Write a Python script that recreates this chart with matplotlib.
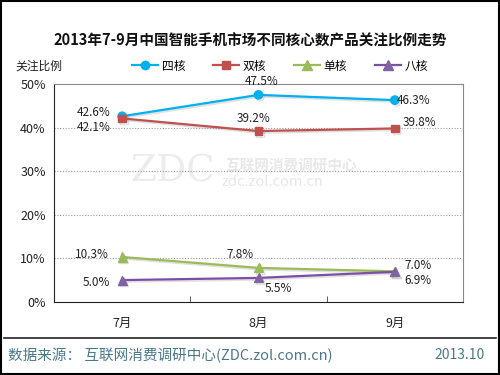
import matplotlib
matplotlib.use("Agg")
import matplotlib.pyplot as plt
import matplotlib.patheffects as pe
from matplotlib.patches import Rectangle
from matplotlib.lines import Line2D

plt.rcParams['font.family'] = ['Noto Sans CJK SC', 'DejaVu Sans']

months = ['7月', '8月', '9月']
quad = [42.6, 47.5, 46.3]     # 四核
dual = [42.1, 39.2, 39.8]     # 双核
single = [10.3, 7.8, 7.0]     # 单核
octa = [5.0, 5.5, 6.9]        # 八核

series = [
    ('四核', quad, '#00B0F0', 'o', [(-12, 4, 'right'), (3, 13, 'center'), (2, 0, 'left')]),
    ('双核', dual, '#C0504D', 's', [(-12, -9, 'right'), (-5, 13, 'center'), (8, 6, 'left')]),
    ('单核', single, '#9BBB59', '^', [(-13, 2, 'right'), (-18, 13, 'center'), (10, 6, 'left')]),
    ('八核', octa, '#7B4FA8', '^', [(-12, -2, 'right'), (20, -11, 'center'), (10, -9, 'left')]),
]
msizes = {'o': 6, 's': 5.5, '^': 6.5}

fig = plt.figure(figsize=(5, 3.75), dpi=100)
ax = fig.add_axes([0.108, 0.195, 0.818, 0.581])

shadow = [pe.SimpleLineShadow(offset=(1.2, -1.2), shadow_color='#888888', alpha=0.25), pe.Normal()]

x = list(range(len(months)))
for name, vals, col, mk, offs in series:
    mfc = '#8064A2' if name == '八核' else col
    ax.plot(x, vals, color=col, lw=1.6, marker=mk, ms=msizes[mk],
            mfc=mfc, mec=mfc, label=name, zorder=3, path_effects=shadow)
    for xi, v, (dx, dy, ha) in zip(x, vals, offs):
        ax.annotate(f'{v:.1f}%', (xi, v), xytext=(dx, dy), textcoords='offset pixels',
                    ha=ha, va='center', fontsize=8.5, color='#222222', zorder=4)

ax.set_xlim(-0.5, 2.5)
ax.set_ylim(0, 50)
ax.set_yticks([0, 10, 20, 30, 40, 50])
ax.set_yticklabels([f'{t}%' for t in [0, 10, 20, 30, 40, 50]], fontsize=9, color='#222222')
ax.set_xticks(x)
ax.set_xticklabels(months, fontsize=9, color='#222222')
ax.set_xticks([0.5, 1.5], minor=True)
ax.tick_params(axis='x', which='major', length=0, pad=11)
ax.tick_params(axis='x', which='minor', direction='in', length=4, color='#444444')
ax.tick_params(axis='y', length=0, pad=6)
for yv in [10, 20, 30, 40]:
    ax.axhline(yv, color='#999999', lw=0.8, ls=(0, (1, 1.5)), zorder=1)
for s in ['top', 'right']:
    ax.spines[s].set_color('#888888')
for s in ['left', 'bottom']:
    ax.spines[s].set_color('#222222')

# watermark
ax.text(0.29, 0.60, 'ZDC', transform=ax.transAxes, fontsize=27, color='#ececec',
        family='DejaVu Serif', ha='center', va='center', zorder=0)
ax.text(0.58, 0.63, '互联网消费调研中心', transform=ax.transAxes, fontsize=10.5,
        color='#e8e8e8', ha='center', va='center', weight='bold', zorder=0)
ax.text(0.535, 0.55, 'zdc.zol.com.cn', transform=ax.transAxes, fontsize=10.5,
        color='#e8e8e8', ha='center', va='center', zorder=0)

fig.text(0.5, 0.893, '2013年7-9月中国智能手机市场不同核心数产品关注比例走势',
         ha='center', va='center', fontsize=10.5, weight='bold', color='#111111')
fig.text(0.03, 0.824, '关注比例', ha='left', va='center', fontsize=8.5, color='#222222')

handles = [Line2D([0], [0], color=c, marker=m, ms=msizes[m], lw=1.6,
                  mfc=('#8064A2' if n == '八核' else c), mec=('#8064A2' if n == '八核' else c))
           for n, _, c, m, _ in series]
fig.legend(handles, [s[0] for s in series], loc='center', bbox_to_anchor=(0.56, 0.824),
           ncol=4, frameon=False, fontsize=8.5, handlelength=2.2, handletextpad=0.3,
           columnspacing=2.35)

fig.add_artist(Line2D([0.008, 0.992], [0.099, 0.099], color='#222222', lw=1.2))
fig.text(0.016, 0.053, '数据来源： 互联网消费调研中心(ZDC.zol.com.cn)', ha='left', va='center',
         fontsize=10.5, color='#4A7889')
fig.text(0.97, 0.053, '2013.10', ha='right', va='center', fontsize=10, color='#4A7889')

fig.add_artist(Rectangle((0.002, 0.003), 0.996, 0.994, transform=fig.transFigure,
                         fill=False, ec='black', lw=1.5))

fig.savefig('out.png', dpi=100)
